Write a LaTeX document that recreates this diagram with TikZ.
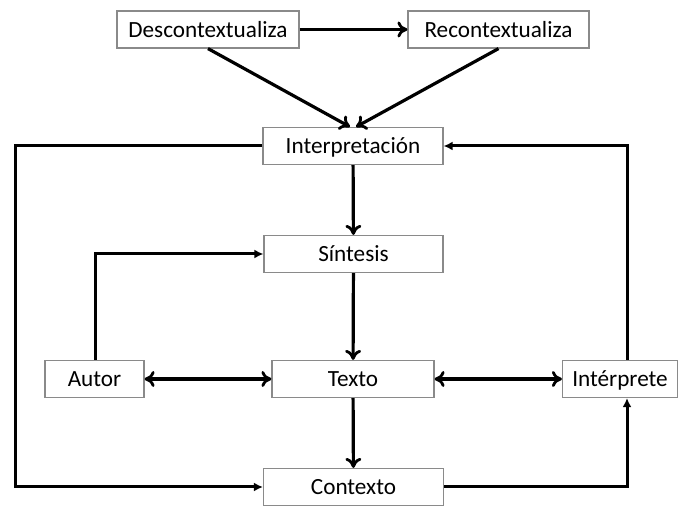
\documentclass[tikz,border=0pt]{standalone}
\usepackage{fontspec}
\setmainfont{Carlito}
\usetikzlibrary{arrows.meta}
\definecolor{boxline}{HTML}{8A8A8A}

\begin{document}
\begin{tikzpicture}[x=0.5pt, y=-0.5pt, every node/.style={font=\fontsize{11.6}{13}\selectfont},
    stagebox/.style={rectangle, draw=boxline, fill=white, line width=0.6pt, minimum height=18.5pt, inner sep=0pt, text height=9.5pt, text depth=1.5pt},
    flow/.style={line width=1.6pt, -{To[length=5pt,width=8pt,line width=1.4pt]}},
    twoway/.style={line width=1.6pt, {To[length=5pt,width=8pt,line width=1.4pt]}-{To[length=5pt,width=8pt,line width=1.4pt]}},
    loop/.style={line width=1.5pt, -{Latex[length=4.5pt,width=4.5pt]}}]
    \useasboundingbox (0,0) rectangle (679,506);

    % Boxes
    \node[stagebox, minimum width=91pt] (desc) at (208,29.5) {Descontextualiza};
    \node[stagebox, minimum width=90.5pt] (recon) at (498.5,29.5) {Recontextualiza};
    \node[stagebox, minimum width=90pt] (interp) at (353,146) {Interpretación};
    \node[stagebox, minimum width=89.5pt] (sint) at (353.5,254) {Síntesis};
    \node[stagebox, minimum width=49.5pt] (autor) at (94.5,379) {Autor};
    \node[stagebox, minimum width=81pt] (texto) at (353,379) {Texto};
    \node[stagebox, minimum width=57.5pt] (interprete) at (620,379) {Intérprete};
    \node[stagebox, minimum width=90pt] (contexto) at (353.5,487) {Contexto};

    % Corner points of the outer loop
    \coordinate (lefttop) at (15,146);
    \coordinate (leftbot) at (15,487);
    \coordinate (righttop) at (627,146);
    \coordinate (rightbot) at (627,487);
    \coordinate (autorup) at (95,254);

    % Arrows
    \draw[flow] (desc) -- (recon);
    \draw[flow] (desc.south) -- ([xshift=-1.5pt]interp.north);
    \draw[flow] (recon.south) -- ([xshift=1.5pt]interp.north);
    \draw[flow] (interp) -- (sint);
    \draw[flow] (sint) -- (texto);
    \draw[flow] (texto) -- (contexto);
    \draw[twoway] (autor) -- (texto);
    \draw[twoway] (texto) -- (interprete);
    \draw[loop] (autor.north -| autorup) -- (autorup) -- (sint.west);
    \draw[loop] (interp.west) -- (lefttop) -- (leftbot) -- (contexto.west);
    \draw[loop] (contexto.east) -- (rightbot) -- (interprete.south -| rightbot);
    \draw[loop] (interprete.north -| righttop) -- (righttop) -- (interp.east);
\end{tikzpicture}
\end{document}
